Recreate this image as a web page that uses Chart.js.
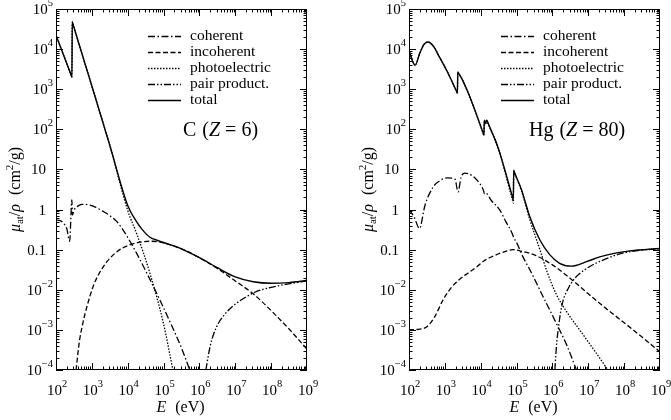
<!DOCTYPE html>
<html>
<head>
<meta charset="utf-8">
<script src="https://cdn.jsdelivr.net/npm/chart.js@4.4.1/dist/chart.umd.min.js"></script>
<style>
html, body { margin: 0; padding: 0; background: #fff; }
#wrap { position: relative; width: 671px; height: 420px; overflow: hidden; }
.panel { position: absolute; top: 0; height: 420px; }
#left { left: 0; width: 335px; }
#right { left: 353px; width: 318px; }
</style>
</head>
<body>
<div id="wrap">
  <div class="panel" id="left"><canvas id="chartC"></canvas></div>
  <div class="panel" id="right"><canvas id="chartHg"></canvas></div>
</div>
<script>
// ---- carbon (Z = 6): photon energy E (eV) and mu/rho (cm^2/g) ----
const cCohE   = [1e2, 1.26e2, 1.58e2, 2.0e2, 2.4e2, 2.77e2, 2.88e2, 3.16e2, 3.98e2, 5.25e2, 7.94e2, 1.26e3, 2.0e3, 3.16e3, 5.01e3, 7.94e3, 1.26e4, 2.0e4, 3.39e4, 7.94e4, 1.58e5, 3.16e5, 5.37e5];
const cCohMu  = [0.55, 0.537, 0.468, 0.331, 0.162, 1.74, 0.724, 0.955, 1.2, 1.35, 1.32, 1.15, 0.912, 0.708, 0.501, 0.282, 0.141, 0.066, 0.0263, 5.5e-3, 1.45e-3, 3.55e-4, 1.0e-4];
const cIncE   = [3.63e2, 4.47e2, 5.62e2, 7.24e2, 1.07e3, 1.58e3, 2.63e3, 5.01e3, 1e4, 2.0e4, 3.98e4, 6.31e4, 1e5, 3.16e5, 1e6, 3.16e6, 1e7, 3.16e7, 1e8, 3.16e8, 1e9];
const cIncMu  = [1.0e-4, 5.0e-4, 1.48e-3, 3.72e-3, 0.0117, 0.0251, 0.0501, 0.0891, 0.126, 0.151, 0.162, 0.16, 0.148, 0.105, 0.063, 0.0339, 0.0166, 7.94e-3, 3.02e-3, 1.05e-3, 3.31e-4];
const cPhoE   = [1e2, 2.7e2, 2.78e2, 2.84e2, 2.95e2, 1e3, 3.16e3, 1e4, 1.78e4, 4.17e4, 1e5, 1.82e5];
const cPhoMu  = [2.24e4, 2.14e3, 2.0e3, 4.79e4, 4.27e4, 1.2e3, 40, 0.95, 0.25, 0.0257, 1.41e-3, 1.0e-4];
const cPairE  = [1.51e6, 2.0e6, 3.02e6, 5.01e6, 8.71e6, 2.0e7, 3.98e7, 1e8, 3.16e8, 1e9];
const cPairMu = [1.0e-4, 3.98e-4, 1.2e-3, 2.4e-3, 3.98e-3, 6.61e-3, 9.12e-3, 0.0115, 0.0141, 0.0166];
const cTotE   = [1e2, 2.7e2, 2.78e2, 2.84e2, 2.95e2, 1e3, 3.16e3, 1e4, 1.78e4, 2.51e4, 4.17e4, 6.31e4, 1e5, 3.16e5, 1e6, 3.16e6, 1e7, 3.16e7, 1e8, 3.16e8, 1e9];
const cTotMu  = [2.24e4, 2.14e3, 2.0e3, 4.79e4, 4.27e4, 1.2e3, 40, 1.26, 0.49, 0.32, 0.204, 0.174, 0.151, 0.105, 0.063, 0.0355, 0.0209, 0.0158, 0.0145, 0.0151, 0.017];

// ---- mercury (Z = 80) ----
const hgCohE   = [1e2, 1.41e2, 1.95e2, 2.82e2, 4.79e2, 7.94e2, 1.15e3, 1.91e3, 2.34e3, 2.82e3, 3.63e3, 5.62e3, 7.76e3, 1.2e4, 1.26e4, 1.35e4, 2.0e4, 3.39e4, 5.01e4, 7.59e4, 8.32e4, 1.0e5, 1.51e5, 2.51e5, 4.47e5, 1.29e6, 2.51e6, 4.68e6];
const hgCohMu  = [1.0, 0.631, 0.339, 1.32, 3.72, 5.5, 6.17, 5.75, 2.75, 6.31, 8.13, 7.08, 5.5, 2.95, 2.51, 2.63, 1.66, 0.977, 0.501, 0.251, 0.2, 0.151, 0.0661, 0.0282, 9.77e-3, 1.45e-3, 4.17e-4, 1.0e-4];
const hgIncE   = [1e2, 2.0e2, 3.16e2, 5.25e2, 8.91e2, 1.55e3, 2.51e3, 4.47e3, 7.94e3, 1.32e4, 2.51e4, 5.01e4, 7.94e4, 1.51e5, 3.16e5, 1e6, 3.16e6, 1e7, 3.16e7, 1e8, 3.16e8, 1e9];
const hgIncMu  = [1.0e-3, 1.05e-3, 1.2e-3, 2.14e-3, 5.62e-3, 0.0117, 0.0178, 0.0263, 0.038, 0.055, 0.0724, 0.0912, 0.1, 0.0891, 0.0741, 0.0417, 0.0191, 7.94e-3, 3.39e-3, 1.51e-3, 6.61e-4, 2.82e-4];
const hgPhoE   = [1e2, 1.2e2, 1.48e2, 2.0e2, 2.63e2, 3.39e2, 5.01e2, 6.61e2, 1.23e3, 2.1e3, 2.24e3, 2.29e3, 2.4e3, 2.95e3, 5.62e3, 1.15e4, 1.23e4, 1.26e4, 1.38e4, 1.48e4, 1.6e4, 3.09e4, 7.6e4, 8.13e4, 8.32e4, 8.9e4, 1.38e5, 2.34e5, 4.47e5, 7.08e5, 1.26e6, 2.51e6, 6.31e6, 1.58e7, 3.55e7];
const hgPhoMu  = [9540, 5610, 3970, 7930, 1.32e4, 1.51e4, 1.12e4, 7070, 2500, 893, 788, 2680, 2500, 1850, 485, 83, 70, 168, 139, 168, 141, 33, 1.8, 1.45, 9.12, 7.84, 2.88, 0.562, 0.1, 0.0282, 7.94e-3, 2.82e-3, 8.91e-4, 2.82e-4, 1.0e-4];
const hgPairE  = [1.17e6, 1.32e6, 1.45e6, 1.66e6, 2.0e6, 2.82e6, 3.8e6, 8.91e6, 2.57e7, 6.76e7, 1.45e8, 3.98e8, 1e9];
const hgPairMu = [1.0e-4, 5.01e-4, 1.0e-3, 2.51e-3, 5.5e-3, 0.0112, 0.0174, 0.0339, 0.055, 0.0759, 0.0891, 0.1, 0.105];
const hgTotE   = [1e2, 1.2e2, 1.48e2, 2.0e2, 2.63e2, 3.39e2, 5.01e2, 6.61e2, 1.23e3, 2.1e3, 2.24e3, 2.29e3, 2.4e3, 2.95e3, 5.62e3, 1.15e4, 1.23e4, 1.26e4, 1.38e4, 1.48e4, 1.6e4, 3.09e4, 7.6e4, 8.13e4, 8.32e4, 8.9e4, 1.38e5, 2.34e5, 4.47e5, 8.51e5, 1.58e6, 3.39e6, 8.91e6, 2.09e7, 6.17e7, 1.45e8, 1e9];
const hgTotMu  = [9550, 5620, 3980, 7940, 1.32e4, 1.51e4, 1.12e4, 7080, 2510, 899, 794, 2690, 2510, 1860, 490, 85, 72.4, 170, 141, 170, 143, 33.9, 2.14, 1.74, 9.55, 8.1, 3.09, 0.661, 0.174, 0.0741, 0.0457, 0.0389, 0.0501, 0.0661, 0.0832, 0.0933, 0.107];

// ---- axes ----
const xTickExp    = ['2', '3', '4', '5', '6', '7', '8', '9'];
const yTickValues = [1e5, 1e4, 1e3, 1e2, 10, 1, 0.1, 1e-2, 1e-3, 1e-4];
const yTickBase   = ['10', '10', '10', '10', '10', '1', '0.1', '10', '10', '10'];
const yTickExp    = ['5', '4', '3', '2', '', '', '', '\u22122', '\u22123', '\u22124'];
const seriesNames = ['coherent', 'incoherent', 'photoelectric', 'pair product.', 'total'];

const FONT = '"Liberation Serif", "DejaVu Serif", serif';

function font(p) {
    return (p.st || 'normal') + ' ' + p.s + 'px ' + FONT;
}

function runWidth(ctx, parts) {
    let w = 0;
    parts.forEach(function (p) {
        ctx.font = font(p);
        w += ctx.measureText(p.t).width + (p.gap || 0);
    });
    return w;
}

function drawRun(ctx, parts, x, y) {
    parts.forEach(function (p) {
        ctx.font = font(p);
        ctx.fillText(p.t, x, y + (p.dy || 0));
        x += ctx.measureText(p.t).width + (p.gap || 0);
    });
}

function pts(E, mu) {
    return E.map(function (e, i) { return { x: e, y: mu[i] }; });
}

// line styles: coherent, incoherent, photoelectric, pair, total
const dashes = [[7, 2.5, 1.5, 2.5], [5, 2.5], [1.5, 1.5], [7, 2, 1.5, 2, 1.5, 2], []];

const decor = {
    id: 'decor',
    afterDraw: function (chart, args, opts) {
        const ctx = chart.ctx;
        const a = chart.chartArea;
        const xs = chart.scales.x;
        const ys = chart.scales.y;
        ctx.save();
        ctx.strokeStyle = '#000';
        ctx.fillStyle = '#000';
        ctx.lineWidth = 1;
        ctx.setLineDash([]);
        ctx.strokeRect(a.left + 0.5, a.top + 0.5, a.right - a.left - 1, a.bottom - a.top - 1);

        // inward ticks on all four sides
        ctx.beginPath();
        for (let d = 2; d < 9; d++) {
            for (let m = 1; m < 10; m++) {
                const px = Math.round(xs.getPixelForValue(m * Math.pow(10, d))) + 0.5;
                const len = m === 1 ? 7 : 3.5;
                ctx.moveTo(px, a.bottom); ctx.lineTo(px, a.bottom - len);
                ctx.moveTo(px, a.top); ctx.lineTo(px, a.top + len);
            }
        }
        for (let d = -4; d < 5; d++) {
            for (let m = 1; m < 10; m++) {
                const py = Math.round(ys.getPixelForValue(m * Math.pow(10, d))) + 0.5;
                const len = m === 1 ? 7 : 3.5;
                ctx.moveTo(a.left, py); ctx.lineTo(a.left + len, py);
                ctx.moveTo(a.right, py); ctx.lineTo(a.right - len, py);
            }
        }
        ctx.stroke();

        ctx.textAlign = 'left';
        ctx.textBaseline = 'alphabetic';

        // x tick labels
        xTickExp.forEach(function (e) {
            const px = xs.getPixelForValue(Math.pow(10, +e));
            const parts = [{ t: '10', s: 15 }, { t: e, s: 10.5, dy: -8 }];
            drawRun(ctx, parts, px - runWidth(ctx, parts) / 2 + 1, a.bottom + 25);
        });

        // y tick labels
        yTickValues.forEach(function (v, i) {
            const py = ys.getPixelForValue(v);
            const parts = [{ t: yTickBase[i], s: 15 }];
            let right = a.left - 10;
            if (yTickExp[i]) {
                parts.push({ t: yTickExp[i], s: 10.5, dy: -8 });
                right = a.left - 3;
            }
            drawRun(ctx, parts, right - runWidth(ctx, parts), py + 5);
        });

        // x axis title
        const xt = [{ t: 'E', s: 16, st: 'italic', gap: 9 }, { t: '(eV)', s: 16 }];
        drawRun(ctx, xt, (a.left + a.right) / 2 - runWidth(ctx, xt) / 2 - 1, a.bottom + 42);

        // y axis title
        const yt = [
            { t: '\u03bc', s: 16, st: 'italic' },
            { t: 'at', s: 11, dy: 3 },
            { t: '/', s: 16 },
            { t: '\u03c1', s: 16, st: 'italic', gap: 9 },
            { t: '(cm', s: 16 },
            { t: '2', s: 11, dy: -7 },
            { t: '/g)', s: 16 }
        ];
        ctx.save();
        ctx.translate(a.left - 36, (a.top + a.bottom) / 2);
        ctx.rotate(-Math.PI / 2);
        drawRun(ctx, yt, -runWidth(ctx, yt) / 2, 0);
        ctx.restore();

        // legend inside the plot
        chart.data.datasets.forEach(function (ds, i) {
            const y = a.top + 27 + i * 16;
            ctx.beginPath();
            ctx.lineWidth = ds.borderWidth;
            ctx.setLineDash(ds.borderDash);
            ctx.moveTo(a.left + 92, y + 0.5);
            ctx.lineTo(a.left + 125, y + 0.5);
            ctx.stroke();
            ctx.setLineDash([]);
            drawRun(ctx, [{ t: ds.label, s: 15.5 }], a.left + 134, y + 4);
        });

        // element label
        drawRun(ctx, opts.label, a.left + opts.labelDx, a.top + 127);
        ctx.restore();
    }
};

function makeChart(canvasId, width, sets, label, labelDx) {
    const datasets = sets.map(function (s, i) {
        return {
            label: seriesNames[i],
            data: pts(s[0], s[1]),
            borderColor: '#000',
            borderWidth: i === 4 ? 1.4 : 1.3,
            borderDash: dashes[i],
            borderCapStyle: 'butt',
            pointRadius: 0,
            fill: false,
            cubicInterpolationMode: 'monotone',
            order: i === 4 ? 0 : 1
        };
    });
    return new Chart(document.getElementById(canvasId), {
        type: 'line',
        data: { datasets: datasets },
        options: {
            responsive: true,
            maintainAspectRatio: false,
            animation: false,
            events: [],
            layout: { padding: { top: 9, right: width - 307, left: 0, bottom: 0 } },
            scales: {
                x: {
                    type: 'logarithmic', min: 1e2, max: 1e9,
                    ticks: { display: false }, grid: { display: false }, border: { display: false },
                    afterFit: function (s) { s.height = 50; }
                },
                y: {
                    type: 'logarithmic', min: 1e-4, max: 1e5,
                    ticks: { display: false }, grid: { display: false }, border: { display: false },
                    afterFit: function (s) { s.width = 56; }
                }
            },
            plugins: {
                legend: { display: false },
                tooltip: { enabled: false },
                decor: { label: label, labelDx: labelDx }
            }
        },
        plugins: [decor]
    });
}

makeChart('chartC', 335,
    [[cCohE, cCohMu], [cIncE, cIncMu], [cPhoE, cPhoMu], [cPairE, cPairMu], [cTotE, cTotMu]],
    [{ t: 'C', s: 20, gap: 6 }, { t: '(', s: 20 }, { t: 'Z', s: 20, st: 'italic', gap: 5 }, { t: '=', s: 20, gap: 5 }, { t: '6)', s: 20 }],
    127);

makeChart('chartHg', 318,
    [[hgCohE, hgCohMu], [hgIncE, hgIncMu], [hgPhoE, hgPhoMu], [hgPairE, hgPairMu], [hgTotE, hgTotMu]],
    [{ t: 'Hg', s: 20, gap: 6 }, { t: '(', s: 20 }, { t: 'Z', s: 20, st: 'italic', gap: 5 }, { t: '=', s: 20, gap: 5 }, { t: '80)', s: 20 }],
    120);
</script>
</body>
</html>
